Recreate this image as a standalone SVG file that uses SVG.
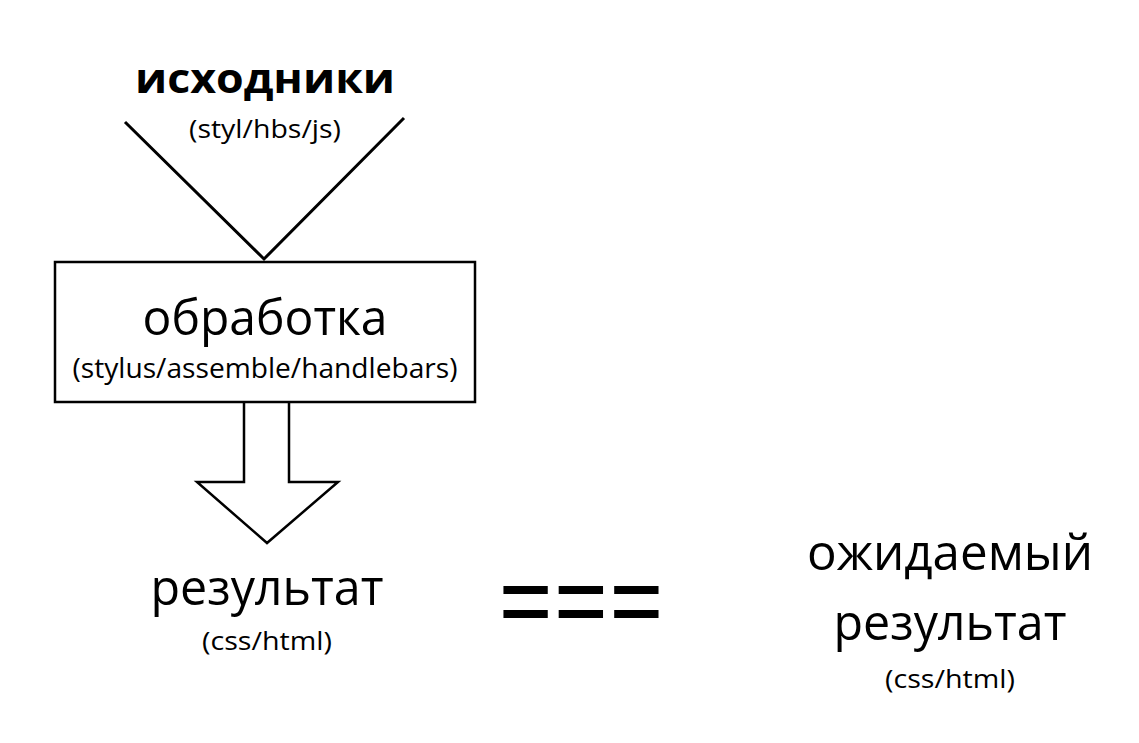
<svg xmlns="http://www.w3.org/2000/svg" width="1139" height="743" viewBox="0 0 1139 743">
<style>
text{font-family:"Open Sans","Noto Sans","DejaVu Sans",sans-serif;fill:#000;text-anchor:middle}
.big{font-size:49px}
.sub{font-size:26px}
.line{fill:none;stroke:#000;stroke-width:3}
</style>
<rect width="1139" height="743" fill="#fff"/>
<g id="sources">
<text x="265" y="93" style="font-size:42px;font-weight:bold" textLength="260" lengthAdjust="spacingAndGlyphs">исходники</text>
<text x="265" y="138" class="sub" textLength="152" lengthAdjust="spacingAndGlyphs">(styl/hbs/js)</text>
</g>
<g id="connectors">
<polyline class="line" points="125,122 264,259 404,118"/>
<path d="M244,402 V482 H197 L267,543 L338,482 H289 V402" fill="#fff" stroke="#000" stroke-width="2.5" stroke-linejoin="miter"/>
</g>
<g id="processing">
<rect x="55" y="262" width="420" height="140" fill="#fff" stroke="#000" stroke-width="2.5"/>
<text x="265" y="335" class="big" textLength="245" lengthAdjust="spacingAndGlyphs">обработка</text>
<text x="265" y="378" style="font-size:28px" textLength="385" lengthAdjust="spacingAndGlyphs">(stylus/assemble/handlebars)</text>
</g>
<g id="result">
<text x="267" y="605" class="big" textLength="233" lengthAdjust="spacingAndGlyphs">результат</text>
<text x="267" y="650" class="sub" textLength="130" lengthAdjust="spacingAndGlyphs">(css/html)</text>
</g>
<g id="equals">
<text x="581" y="645" style="font-size:120px" textLength="166" lengthAdjust="spacingAndGlyphs">===</text>
</g>
<g id="expected">
<text x="950" y="570" class="big" textLength="286" lengthAdjust="spacingAndGlyphs">ожидаемый</text>
<text x="950" y="640" class="big" textLength="233" lengthAdjust="spacingAndGlyphs">результат</text>
<text x="950" y="688" class="sub" textLength="130" lengthAdjust="spacingAndGlyphs">(css/html)</text>
</g>
</svg>
